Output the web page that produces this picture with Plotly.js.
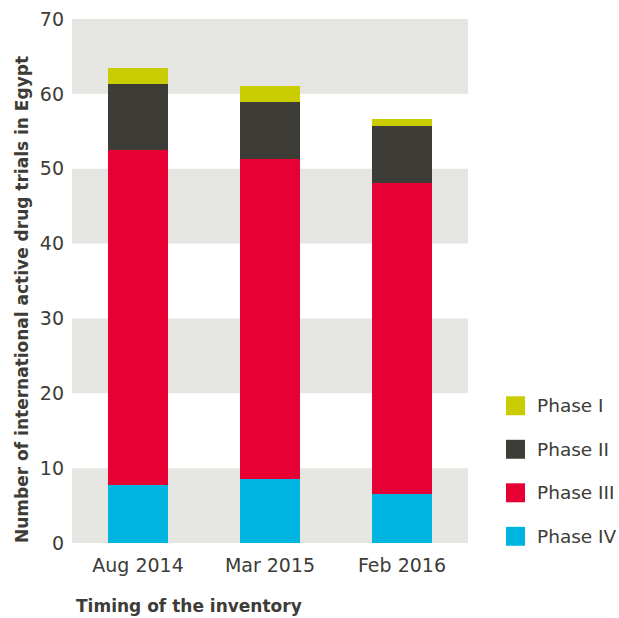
<!DOCTYPE html>
<html>
<head>
<meta charset="utf-8">
<script src="https://cdn.plot.ly/plotly-3.0.1.min.js"></script>
<style>html,body{margin:0;padding:0;background:#fff;}#chart{width:619px;height:618px;}</style>
</head>
<body>
<div id="chart"></div>
<script>
const categories = ["Aug 2014", "Mar 2015", "Feb 2016"];
const phaseIV  = [7.8, 8.6, 6.5];
const phaseIII = [44.7, 42.7, 41.6];
const phaseII  = [8.8, 7.6, 7.6];
const phaseI   = [2.1, 2.1, 1.0];
const seriesNames = ["Phase IV", "Phase III", "Phase II", "Phase I"];
const seriesColors = ["#00b4e0", "#e60033", "#3d3c36", "#c8cc00"];
const yTicks = [0, 10, 20, 30, 40, 50, 60, 70];

const textColor = "#3d3c36";
const font = "DejaVu Sans, sans-serif";
const seriesValues = [phaseIV, phaseIII, phaseII, phaseI];

const traces = seriesValues.map((vals, i) => ({
  type: "bar",
  x: categories,
  y: vals,
  name: seriesNames[i],
  marker: {color: seriesColors[i], line: {width: 0}},
  showlegend: false,
  hoverinfo: "skip"
}));

// background bands
const shapes = [];
for (let i = 0; i < yTicks.length - 1; i += 2) {
  shapes.push({type: "rect", xref: "paper", yref: "y", x0: 0, x1: 1,
    y0: yTicks[i], y1: yTicks[i + 1], fillcolor: "#e5e5e1", line: {width: 0}, layer: "below"});
}

// layout geometry
const L = 72, R = 151, T = 18.5, B = 74.5, W = 619, H = 618;
const pw = W - L - R, ph = H - T - B;
const px2x = p => (p - L) / pw;
const py2y = p => (H - B - p) / ph;

const annotations = [];
// manual legend (top to bottom: Phase I ... Phase IV)
const legendOrder = [3, 2, 1, 0];
legendOrder.forEach((si, k) => {
  const cy = 406 + k * 43.6;
  shapes.push({type: "rect", xref: "paper", yref: "paper",
    x0: px2x(506), x1: px2x(525), y0: py2y(cy + 9.5), y1: py2y(cy - 9.5),
    fillcolor: seriesColors[si], line: {width: 0}});
  annotations.push({xref: "paper", yref: "paper", x: px2x(535), y: py2y(cy),
    xanchor: "left", yanchor: "middle", showarrow: false, text: seriesNames[si],
    font: {family: font, size: 18.5, color: textColor}});
});

annotations.push({xref: "paper", yref: "paper", x: px2x(74), y: py2y(607),
  xanchor: "left", yanchor: "middle", showarrow: false,
  text: "<b>Timing of the inventory</b>", font: {family: font, size: 17, color: textColor}});
annotations.push({xref: "paper", yref: "paper", x: px2x(22), y: py2y(300),
  xanchor: "center", yanchor: "middle", showarrow: false, textangle: -90,
  text: "<b>Number of international active drug trials in Egypt</b>",
  font: {family: font, size: 17, color: textColor}});

const layout = {
  width: W, height: H,
  margin: {l: L, r: R, t: T, b: B, pad: 0},
  paper_bgcolor: "#ffffff",
  plot_bgcolor: "#ffffff",
  barmode: "stack",
  bargap: 0.54,
  showlegend: false,
  xaxis: {type: "category", showgrid: false, zeroline: false, showline: false, ticks: "",
    ticklabelstandoff: 9,
    tickfont: {family: font, size: 19, color: textColor}, fixedrange: true},
  yaxis: {range: [0, 70], tickvals: yTicks, showgrid: false, zeroline: false, showline: false,
    ticks: "", ticklabelstandoff: 7,
    tickfont: {family: font, size: 19, color: textColor}, fixedrange: true},
  shapes: shapes,
  annotations: annotations,
  font: {family: font, color: textColor}
};

Plotly.newPlot("chart", traces, layout, {displayModeBar: false, staticPlot: true});
</script>
</body>
</html>
